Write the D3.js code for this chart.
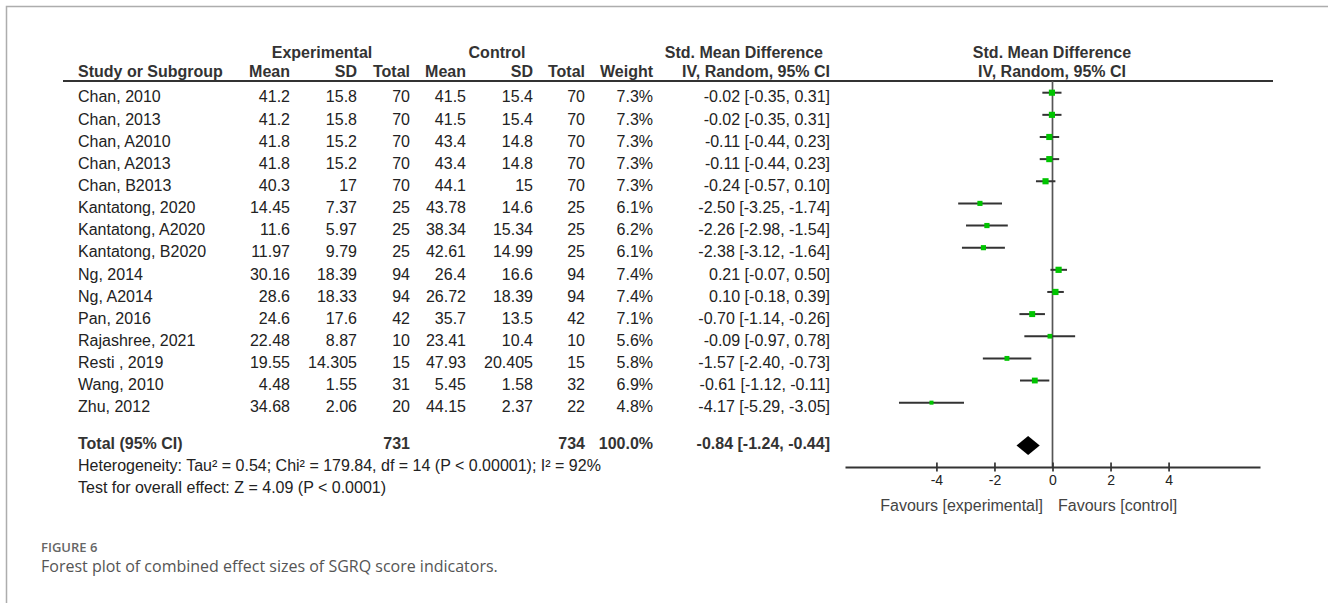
<!DOCTYPE html>
<html lang="en">
<head>
<meta charset="UTF-8">
<title>Forest plot SGRQ</title>
<script src="https://cdn.jsdelivr.net/npm/d3@7"></script>
<style>
  html, body { margin: 0; padding: 0; background: #fff; }
  svg { display: block; }
  .tbl { font-family: "Liberation Sans", Arial, sans-serif; font-size: 16px; fill: #222; }
  .hdr { font-weight: bold; fill: #333; }
  .cap { font-family: "Open Sans", sans-serif; }
</style>
</head>
<body>
<svg id="chart" width="1328" height="603"></svg>
<script>
// study data
var studies = ["Chan, 2010", "Chan, 2013", "Chan, A2010", "Chan, A2013", "Chan, B2013",
  "Kantatong, 2020", "Kantatong, A2020", "Kantatong, B2020", "Ng, 2014", "Ng, A2014",
  "Pan, 2016", "Rajashree, 2021", "Resti ,  2019", "Wang, 2010", "Zhu, 2012"];
var expMean = [41.2, 41.2, 41.8, 41.8, 40.3, 14.45, 11.6, 11.97, 30.16, 28.6, 24.6, 22.48, 19.55, 4.48, 34.68];
var expSD = [15.8, 15.8, 15.2, 15.2, 17, 7.37, 5.97, 9.79, 18.39, 18.33, 17.6, 8.87, 14.305, 1.55, 2.06];
var expN = [70, 70, 70, 70, 70, 25, 25, 25, 94, 94, 42, 10, 15, 31, 20];
var ctlMean = [41.5, 41.5, 43.4, 43.4, 44.1, 43.78, 38.34, 42.61, 26.4, 26.72, 35.7, 23.41, 47.93, 5.45, 44.15];
var ctlSD = [15.4, 15.4, 14.8, 14.8, 15, 14.6, 15.34, 14.99, 16.6, 18.39, 13.5, 10.4, 20.405, 1.58, 2.37];
var ctlN = [70, 70, 70, 70, 70, 25, 25, 25, 94, 94, 42, 10, 15, 32, 22];
var weight = [7.3, 7.3, 7.3, 7.3, 7.3, 6.1, 6.2, 6.1, 7.4, 7.4, 7.1, 5.6, 5.8, 6.9, 4.8];
var smd = [-0.02, -0.02, -0.11, -0.11, -0.24, -2.50, -2.26, -2.38, 0.21, 0.10, -0.70, -0.09, -1.57, -0.61, -4.17];
var ciLow = [-0.35, -0.35, -0.44, -0.44, -0.57, -3.25, -2.98, -3.12, -0.07, -0.18, -1.14, -0.97, -2.40, -1.12, -5.29];
var ciHigh = [0.31, 0.31, 0.23, 0.23, 0.10, -1.74, -1.54, -1.64, 0.50, 0.39, -0.26, 0.78, -0.73, -0.11, -3.05];
var totalN = [731, 734];
var totalWeight = 100.0;
var pooled = [-0.84, -1.24, -0.44]; // estimate, low, high
var axisTicks = [-4, -2, 0, 2, 4];
var heterogeneity = "Heterogeneity: Tau\u00b2 = 0.54; Chi\u00b2 = 179.84, df = 14 (P < 0.00001); I\u00b2 = 92%";
var overallTest = "Test for overall effect: Z = 4.09 (P < 0.0001)";

var svg = d3.select("#chart");

// frame of the figure box
svg.append("path")
  .attr("d", "M6.5,603V6.5H1328")
  .attr("fill", "none")
  .attr("stroke", "#adadad")
  .attr("stroke-width", 1.5);

var rowY = d3.scaleLinear().domain([0, 1]).range([96.7, 118.84]); // row centre per index
var x = d3.scaleLinear().domain([-7.15, 7.15]).range([845, 1260]);
var fmt2 = v => v.toFixed(2);

var tbl = svg.append("g").attr("class", "tbl");

// header rows
function hdr(txt, xx, y, anchor) {
  tbl.append("text").attr("class", "hdr")
    .attr("x", xx).attr("y", y)
    .attr("text-anchor", anchor)
    .text(txt);
}
hdr("Experimental", 322, 58, "middle");
hdr("Control", 497, 58, "middle");
hdr("Std. Mean Difference", 823, 58, "end");
hdr("Std. Mean Difference", 1052, 58, "middle");
hdr("Study or Subgroup", 78, 77, "start");
hdr("Mean", 290, 77, "end");
hdr("SD", 357, 77, "end");
hdr("Total", 410, 77, "end");
hdr("Mean", 466, 77, "end");
hdr("SD", 533, 77, "end");
hdr("Total", 585, 77, "end");
hdr("Weight", 653, 77, "end");
hdr("IV, Random, 95% CI", 830, 77, "end");
hdr("IV, Random, 95% CI", 1052, 77, "middle");

svg.append("line")
  .attr("x1", 63).attr("x2", 1273)
  .attr("y1", 81).attr("y2", 81)
  .attr("stroke", "#333").attr("stroke-width", 2);

// table body
var cols = [
  { x: 290, v: i => String(expMean[i]) },
  { x: 357, v: i => String(expSD[i]) },
  { x: 410, v: i => String(expN[i]) },
  { x: 466, v: i => String(ctlMean[i]) },
  { x: 533, v: i => String(ctlSD[i]) },
  { x: 585, v: i => String(ctlN[i]) },
  { x: 653, v: i => weight[i].toFixed(1) + "%" },
  { x: 830, v: i => fmt2(smd[i]) + " [" + fmt2(ciLow[i]) + ", " + fmt2(ciHigh[i]) + "]" }
];

var rows = tbl.selectAll("g.row")
  .data(studies)
  .enter().append("g").attr("class", "row")
  .attr("transform", (d, i) => "translate(0," + (rowY(i) + 5.7) + ")");

rows.append("text").attr("x", 78).text(d => d);
cols.forEach(c => {
  rows.append("text")
    .attr("x", c.x)
    .attr("text-anchor", "end")
    .text((d, i) => c.v(i));
});

// totals
var ty = 449;
hdr("Total (95% CI)", 78, ty, "start");
hdr(String(totalN[0]), 410, ty, "end");
hdr(String(totalN[1]), 585, ty, "end");
hdr(totalWeight.toFixed(1) + "%", 653, ty, "end");
hdr(fmt2(pooled[0]) + " [" + fmt2(pooled[1]) + ", " + fmt2(pooled[2]) + "]", 830, ty, "end");

tbl.append("text").attr("x", 78).attr("y", 471).text(heterogeneity);
tbl.append("text").attr("x", 78).attr("y", 493).text(overallTest);

// plot: zero line
svg.append("line")
  .attr("x1", x(0)).attr("x2", x(0))
  .attr("y1", 81).attr("y2", 467)
  .attr("stroke", "#555").attr("stroke-width", 1.7);

var plot = svg.append("g");
var mark = plot.selectAll("g.mark")
  .data(smd)
  .enter().append("g").attr("class", "mark")
  .attr("transform", (d, i) => "translate(0," + (rowY(i) - 4) + ")");

mark.append("line")
  .attr("x1", (d, i) => x(ciLow[i]))
  .attr("x2", (d, i) => x(ciHigh[i]))
  .attr("stroke", "#333").attr("stroke-width", 2);

mark.append("rect")
  .attr("x", (d, i) => x(d) - weight[i] * 0.42)
  .attr("y", (d, i) => -weight[i] * 0.42)
  .attr("width", (d, i) => weight[i] * 0.84)
  .attr("height", (d, i) => weight[i] * 0.84)
  .attr("fill", "#00c400");

// pooled diamond
var dy = 445.5, dh = 9.5;
plot.append("path")
  .attr("d", "M" + x(pooled[1]) + "," + dy +
    "L" + x(pooled[0]) + "," + (dy - dh) +
    "L" + x(pooled[2]) + "," + dy +
    "L" + x(pooled[0]) + "," + (dy + dh) + "Z")
  .attr("fill", "#000");

// axis
var axis = d3.axisBottom(x).tickValues(axisTicks).tickSize(9).tickSizeOuter(0)
  .tickFormat(d => String(d));
var ag = svg.append("g").attr("transform", "translate(0,467)").call(axis);
ag.select(".domain").attr("stroke", "#333").attr("stroke-width", 2);
ag.selectAll(".tick line").attr("y1", -4.5).attr("y2", 4.5)
  .attr("stroke", "#333").attr("stroke-width", 1.7);
ag.selectAll(".tick text")
  .attr("y", 14).attr("dy", "0.32em")
  .attr("fill", "#222")
  .style("font-family", "Liberation Sans, Arial, sans-serif")
  .style("font-size", "14px");

tbl.append("text").attr("x", 1043).attr("y", 511)
  .attr("text-anchor", "end").attr("fill", "#444")
  .text("Favours [experimental]");
tbl.append("text").attr("x", 1058).attr("y", 511)
  .attr("fill", "#444")
  .text("Favours [control]");

// caption
svg.append("text").attr("class", "cap")
  .attr("x", 41).attr("y", 552)
  .attr("fill", "#666")
  .style("font-size", "13px").style("font-weight", 600)
  .text("FIGURE 6");
svg.append("text").attr("class", "cap")
  .attr("x", 41).attr("y", 572)
  .attr("fill", "#555")
  .style("font-size", "16px")
  .text("Forest plot of combined effect sizes of SGRQ score indicators.");
</script>
</body>
</html>
